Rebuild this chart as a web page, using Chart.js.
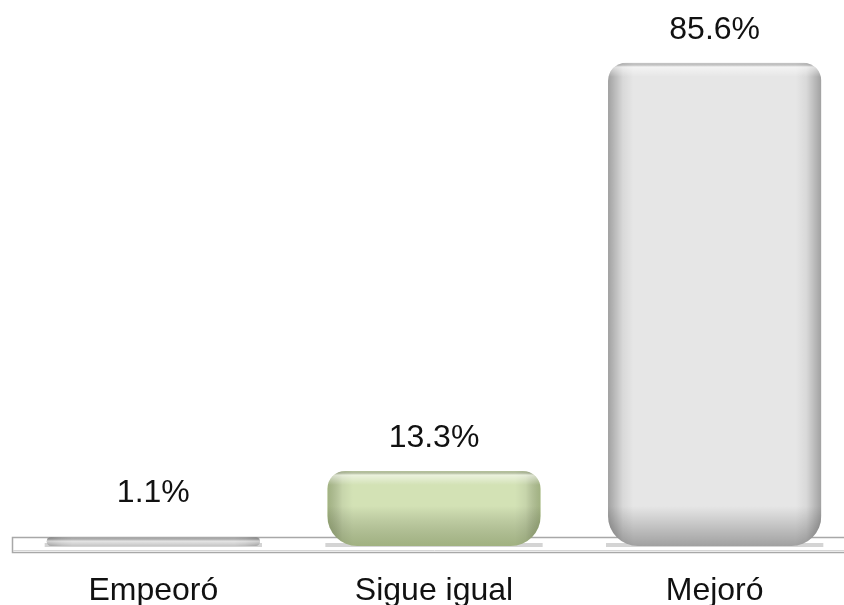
<!DOCTYPE html>
<html>
<head>
<meta charset="utf-8">
<script src="https://cdn.jsdelivr.net/npm/chart.js@4"></script>
<style>
  html, body { margin: 0; padding: 0; background: #fff; overflow: hidden; }
  #wrap { width: 856px; height: 605px; position: relative; }
</style>
</head>
<body>
<div id="wrap"><canvas id="barChart"></canvas></div>
<script>
const categories = ["Empeoró", "Sigue igual", "Mejoró"];
const values = [1.1, 13.3, 85.6];
const valueLabels = ["1.1%", "13.3%", "85.6%"];
const barColors = ["#c6c6c6", "#d3e2b5", "#e6e6e6"];
const edgeColors = ["rgba(0,0,0,0.2)", "rgba(55,75,20,0.32)", "rgba(0,0,0,0.3)"];

const FONT = "'Liberation Sans', Arial, sans-serif";
const radii = { topLeft: 18, topRight: 18, bottomLeft: 30, bottomRight: 30 };

function roundPath(ctx, l, t, r, b) {
    const h = b - t, w = r - l;
    const tr = Math.min(radii.topLeft, h / 2, w / 2);
    const br = Math.min(radii.bottomLeft, h / 2, w / 2);
    ctx.beginPath();
    ctx.roundRect(l, t, w, h, [tr, tr, br, br]);
}

// floor strip + shadows under bars
const floorPlugin = {
    id: "floor",
    beforeDatasetsDraw(chart) {
        const ctx = chart.ctx;
        const meta = chart.getDatasetMeta(0);
        const base = chart.scales.y.getPixelForValue(0);
        ctx.save();
        ctx.strokeStyle = "#a8a8a8";
        ctx.lineWidth = 1.5;
        ctx.strokeRect(12.5, base - 8.5, chart.width + 10, 15);
        ctx.strokeStyle = "#d6d6d6";
        ctx.lineWidth = 1;
        ctx.beginPath();
        ctx.moveTo(13, base + 4.5);
        ctx.lineTo(chart.width, base + 4.5);
        ctx.stroke();
        ctx.fillStyle = "#d4d4d4";
        meta.data.forEach(el => {
            ctx.fillRect(el.x - el.width / 2 - 2, base - 3, el.width + 4, 4);
        });
        ctx.restore();
    }
};

// bevel shading + value labels
const shadePlugin = {
    id: "shade",
    afterDatasetsDraw(chart) {
        const ctx = chart.ctx;
        const meta = chart.getDatasetMeta(0);
        meta.data.forEach((el, i) => {
            const l = el.x - el.width / 2, r = el.x + el.width / 2;
            const t = el.y, b = el.base;
            const h = b - t;
            ctx.save();
            roundPath(ctx, l, t, r, b);
            ctx.clip();
            const edge = edgeColors[i];
            const gx = ctx.createLinearGradient(l, 0, r, 0);
            gx.addColorStop(0, edge);
            gx.addColorStop(0.07, "rgba(0,0,0,0.06)");
            gx.addColorStop(0.12, "rgba(0,0,0,0)");
            gx.addColorStop(0.88, "rgba(0,0,0,0)");
            gx.addColorStop(0.93, "rgba(0,0,0,0.06)");
            gx.addColorStop(1, edge);
            ctx.fillStyle = gx;
            ctx.fillRect(l, t, r - l, h);
            const f = px => Math.max(0, Math.min(1, px / h));
            const gy = ctx.createLinearGradient(0, t, 0, b);
            gy.addColorStop(0, "rgba(0,0,0,0.12)");
            gy.addColorStop(f(4), "rgba(255,255,255,0.55)");
            gy.addColorStop(f(14), "rgba(255,255,255,0)");
            gy.addColorStop(Math.max(f(14), 1 - f(40)), "rgba(0,0,0,0)");
            gy.addColorStop(1, edge);
            ctx.fillStyle = gy;
            ctx.fillRect(l, t, r - l, h);
            ctx.restore();

            ctx.save();
            ctx.font = "32px " + FONT;
            ctx.fillStyle = "#111";
            ctx.textAlign = "center";
            ctx.textBaseline = "alphabetic";
            ctx.fillText(valueLabels[i], el.x, Math.min(el.y, 526) - 24);
            ctx.restore();
        });
    }
};

new Chart(document.getElementById("barChart"), {
    type: "bar",
    data: {
        labels: categories,
        datasets: [{
            data: values,
            backgroundColor: barColors,
            borderWidth: 0,
            borderRadius: radii,
            borderSkipped: false,
            minBarLength: 9,
            categoryPercentage: 1,
            barPercentage: 0.76
        }]
    },
    options: {
        responsive: true,
        maintainAspectRatio: false,
        animation: false,
        layout: { padding: { top: 38, left: 13, right: 1, bottom: 0 } },
        plugins: { legend: { display: false }, tooltip: { enabled: false } },
        scales: {
            x: {
                grid: { display: false },
                border: { display: false },
                afterFit(scale) { scale.height = 59; },
                ticks: { color: "#111", padding: 21, font: { family: FONT, size: 32, lineHeight: 1 } }
            },
            y: { display: false, min: 0, max: 90 }
        }
    },
    plugins: [floorPlugin, shadePlugin]
});
</script>
</body>
</html>
